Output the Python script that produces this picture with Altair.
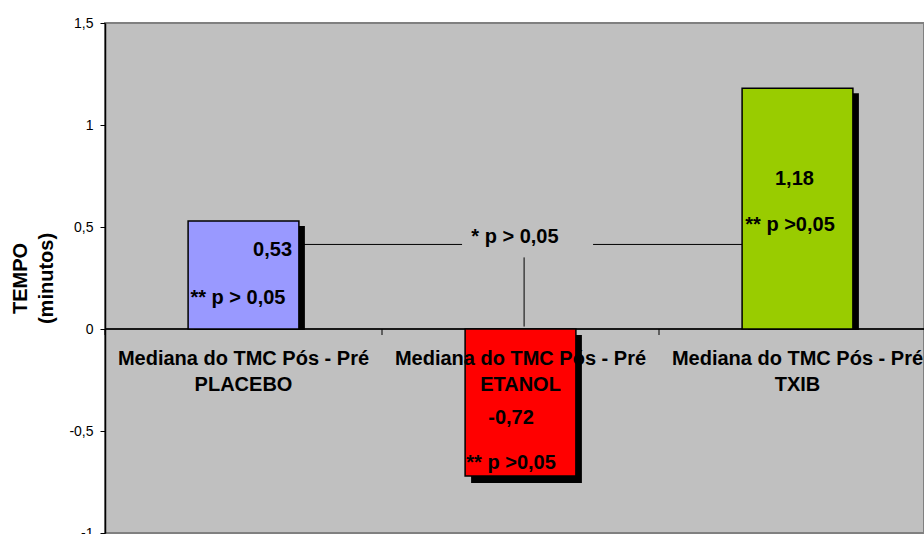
import altair as alt
import pandas as pd

# Median change of TMC (post - pre), in minutes, per group
GROUPS = ["PLACEBO", "ETANOL", "TXIB"]
MEDIANS = [0.53, -0.72, 1.18]
NOTES = ["** p > 0,05", "** p >0,05", "** p >0,05"]
COLORS = ["#9999FF", "#FF0000", "#99CC00"]
CATEGORY_PREFIX = "Mediana do TMC Pós - Pré"
Y_TICKS = [-1, -0.5, 0, 0.5, 1, 1.5]
BRACKET_TEXT = "* p > 0,05"

# Layout (x in category units, y in minutes)
VALUE_LABEL_X = [0.605, 1.466, 2.489]
VALUE_LABEL_Y = [0.385, -0.435, 0.734]
NOTE_X = [0.480, 1.466, 2.473]
NOTE_Y = [0.154, -0.656, 0.508]
BRACKET_LABEL_POS = (1.480, 0.449)
BRACKET_H = [(0.705, 1.289, 0.4145), (1.762, 2.300, 0.4145)]
BRACKET_V = (1.513, 0.351, 0.012)

PLOT_W, PLOT_H = 819, 510
BAND_PX = 277
FONT = "Liberation Sans"

bars = pd.DataFrame({
    "grupo": GROUPS,
    "mediana": MEDIANS,
    "x0": [i + 0.3 for i in range(len(GROUPS))],
    "x1": [i + 0.7 for i in range(len(GROUPS))],
    "cor": COLORS,
})
labels = pd.DataFrame({
    "texto": [f"{v:.2f}".replace(".", ",") for v in MEDIANS],
    "x": VALUE_LABEL_X,
    "y": VALUE_LABEL_Y,
})
notes = pd.DataFrame({"texto": NOTES, "x": NOTE_X, "y": NOTE_Y})
cats = pd.DataFrame({
    "texto": [f"{CATEGORY_PREFIX}\n{g}" for g in GROUPS],
    "x": [i + 0.5 for i in range(len(GROUPS))],
})
cat_ticks = pd.DataFrame({"x": list(range(len(GROUPS) + 1))})
hseg = pd.DataFrame(BRACKET_H, columns=["xa", "xb", "y"])
vseg = pd.DataFrame([BRACKET_V], columns=["x", "ya", "yb"])
bracket_lbl = pd.DataFrame({"texto": [BRACKET_TEXT], "x": [BRACKET_LABEL_POS[0]], "y": [BRACKET_LABEL_POS[1]]})

xscale = alt.Scale(domain=[0, PLOT_W / BAND_PX], nice=False, zero=False)
yscale = alt.Scale(domain=[-1, 1.5], nice=False, zero=False)

X = lambda f: alt.X(f, type="quantitative", scale=xscale, axis=None)

yaxis = alt.Axis(
    values=Y_TICKS,
    labelExpr="replace(toString(datum.value), '.', ',')",
    labelFont=FONT, labelFontSize=14, labelColor="#000000", labelPadding=7,
    tickColor="#000000", tickSize=5, tickWidth=1,
    domainColor="#000000", domainWidth=1.5,
    grid=False,
    title=["TEMPO", "(minutos)"],
    titleFont=FONT, titleFontSize=20, titleFontWeight="bold", titleColor="#000000",
    titleAngle=270, titleAlign="center", titleBaseline="middle",
    titleLineHeight=26, titleX=-85, titleY=255,
)

# bars drawn against a fixed y axis
axis_layer = alt.Chart(bars).mark_bar(opacity=0).encode(
    x=X("x0"), x2="x1",
    y=alt.Y("mediana:Q", scale=yscale, axis=yaxis), y2=alt.datum(0),
)

zero_line = alt.Chart(bars).mark_rule(color="#000000", strokeWidth=1).encode(
    x=alt.value(0), x2=alt.value(PLOT_W), y=alt.datum(0, scale=yscale)
)

ticks = alt.Chart(cat_ticks).mark_rule(color="#000000", strokeWidth=1, y2Offset=6).encode(
    x=X("x"), y=alt.datum(0), y2=alt.datum(0)
)

h_lines = alt.Chart(hseg).mark_rule(color="#000000", strokeWidth=1).encode(
    x=X("xa"), x2="xb", y="y:Q"
)
v_line = alt.Chart(vseg).mark_rule(color="#000000", strokeWidth=1).encode(
    x=X("x"), y="ya:Q", y2="yb"
)

shadow_pos = alt.Chart(bars).transform_filter("datum.mediana > 0").mark_bar(
    color="#000000", xOffset=6, x2Offset=6, yOffset=5, y2Offset=1
).encode(x=X("x0"), x2="x1", y="mediana:Q", y2=alt.datum(0))

shadow_neg = alt.Chart(bars).transform_filter("datum.mediana < 0").mark_bar(
    color="#000000", xOffset=6, x2Offset=6, yOffset=7, y2Offset=6
).encode(x=X("x0"), x2="x1", y="mediana:Q", y2=alt.datum(0))

bar_layer = alt.Chart(bars).mark_bar(stroke="#000000", strokeWidth=1.5).encode(
    x=X("x0"), x2="x1",
    y="mediana:Q", y2=alt.datum(0),
    fill=alt.Fill("cor:N", scale=None),
)

text_style = dict(font=FONT, fontSize=20, fontWeight="bold", color="#000000", baseline="middle")

cat_text = alt.Chart(cats).mark_text(lineBreak="\n", lineHeight=26, align="center", **text_style).encode(
    x=X("x"), y=alt.value(336), text="texto:N"
)
val_text = alt.Chart(labels).mark_text(align="center", **text_style).encode(
    x=X("x"), y="y:Q", text="texto:N"
)
note_text = alt.Chart(notes).mark_text(align="center", **text_style).encode(
    x=X("x"), y="y:Q", text="texto:N"
)
bracket_text = alt.Chart(bracket_lbl).mark_text(align="center", **text_style).encode(
    x=X("x"), y="y:Q", text="texto:N"
)

chart = alt.layer(
    axis_layer, h_lines, v_line, zero_line, ticks,
    shadow_pos, shadow_neg, bar_layer,
    cat_text, val_text, note_text, bracket_text,
).properties(
    width=PLOT_W, height=PLOT_H,
    autosize=alt.AutoSizeParams(type="none"),
    padding={"left": 105, "top": 23, "right": 0, "bottom": 1},
    background="#FFFFFF",
).configure_view(
    fill="#C0C0C0", stroke="#808080", strokeWidth=2
)

chart.save("out.html", embed_options={"renderer": "svg", "actions": False})
